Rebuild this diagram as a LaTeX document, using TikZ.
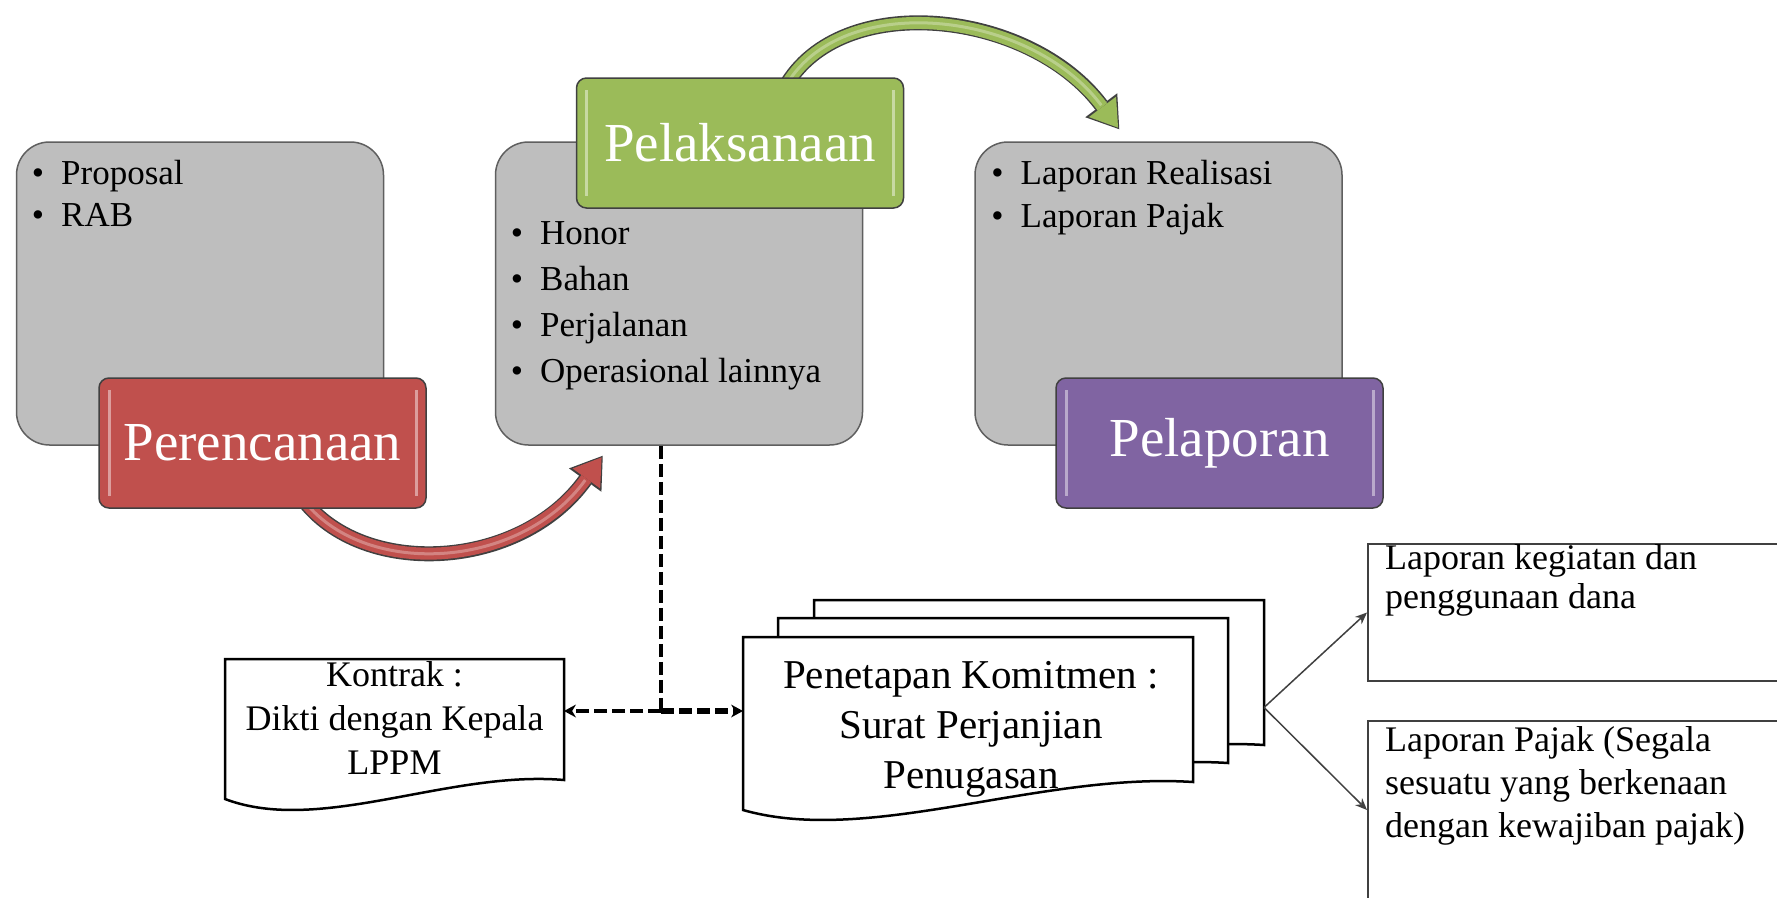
\documentclass[tikz,border=0pt]{standalone}
\usepackage{fontspec}
\setmainfont{Liberation Serif}
\usetikzlibrary{arrows.meta,calc,backgrounds}
\definecolor{abuisi}{HTML}{BEBEBE}
\definecolor{abugaris}{HTML}{5F5F5F}
\definecolor{tepi}{HTML}{404040}
\definecolor{merah}{HTML}{C0504D}
\definecolor{hijau}{HTML}{9BBB59}
\definecolor{ungu}{HTML}{8064A2}
\tikzset{
>=Stealth,
kotak isi/.style={draw=abugaris,fill=abuisi,line width=1.5pt,rounded corners=33pt,
  minimum width=367pt,minimum height=303pt},
tahap/.style={draw=tepi,fill=#1,line width=1.5pt,rounded corners=10pt,
  minimum width=327pt,minimum height=130pt,text=white,font=\fontsize{55}{60}\selectfont,
  path picture={\draw[white,opacity=.45,line width=3pt]
    ([xshift=10pt,yshift=-12pt]path picture bounding box.north west)
      -- ([xshift=10pt,yshift=12pt]path picture bounding box.south west)
    ([xshift=-10pt,yshift=-12pt]path picture bounding box.north east)
      -- ([xshift=-10pt,yshift=12pt]path picture bounding box.south east);}},
daftar/.style={anchor=base west,inner sep=0pt,font=\fontsize{35}{#1}\selectfont},
daftar/.default=42,
pita luar/.style={line width=15pt,draw=tepi,
  -{Triangle[length=30pt 0 0,width=40pt 0 0,line width=0pt 0 0]}},
pita dalam/.style={line width=12pt,draw=#1,shorten >=2pt,
  -{Triangle[length=26pt 0 0,width=34pt 0 0,line width=0pt 0 0]}},
pita kilau/.style={line width=3pt,draw=white,opacity=.3,shorten >=30pt},
dok/.style={inner sep=0pt,outer sep=0pt},
garis dok/.style={draw=black,fill=white,line width=2.5pt},
teks dok/.style={anchor=base,inner sep=0pt},
kotak lapor/.style={draw=tepi,line width=2pt,minimum width=460pt},
teks lapor/.style={anchor=base west,inner sep=0pt},
garis putus/.style={line width=4.5pt,dash pattern=on 13pt off 5pt,
  >={Stealth[length=12pt 0 0,width=13pt 0 0,line width=0pt 0 0]}},
garis cabang/.style={->,draw=tepi,line width=1.5pt,
  >={Stealth[length=12pt 0 0,width=10pt 0 0,line width=0pt 0 0]}}
}
\newcommand{\butir}[1]{\begin{tabular}[t]{@{}l@{\hspace{17pt}}l@{}}#1\end{tabular}}
\newcommand{\tbaris}[2]{\begin{tabular}[t]{@{}#1@{}}#2\end{tabular}}
\newcommand{\dokumen}[2]{%
  \draw[garis dok] (#1.south west) -- (#1.north west) -- (#1.north east)
    -- ([yshift=#2pt]#1.south east)
    .. controls ($(#1.south west)!0.66!(#1.south east)+(0,{-#2-10})$)
    and ($(#1.south west)!0.28!(#1.south east)+(0,36)$) .. (#1.south west) -- cycle;}

\begin{document}
\begin{tikzpicture}[x=1pt,y=-1pt]
\useasboundingbox (0,0) rectangle (1777,897);
\clip (0,0) rectangle (1777,897);

\node[kotak isi] (isi1) at (200,293.5) {};
\node[kotak isi] (isi2) at (679,293.5) {};
\node[kotak isi] (isi3) at (1158.5,293.5) {};

\node[daftar] (daftar1) at ([xshift=16pt,yshift=-43pt]isi1.north west)
  {\butir{\textbullet & Proposal\\ \textbullet & RAB}};
\node[daftar=46] (daftar2) at ([xshift=16pt,yshift=-103pt]isi2.north west)
  {\butir{\textbullet & Honor\\ \textbullet & Bahan\\ \textbullet & Perjalanan\\ \textbullet & Operasional lainnya}};
\node[daftar=43] (daftar3) at ([xshift=17pt,yshift=-43pt]isi3.north west)
  {\butir{\textbullet & Laporan Realisasi\\ \textbullet & Laporan Pajak}};

\node[tahap=merah] (rencana) at (262.5,443) {Perencanaan};
\node[tahap=hijau] (laksana) at (740,143) {Pelaksanaan};
\node[tahap=ungu] (lapor) at (1219.5,443) {Pelaporan};

\begin{scope}[on background layer]
\fill[white] (0,0) rectangle (1777,897);
\draw[pita luar] ([xshift=40pt,yshift=10pt]rencana.south)
  .. controls +(60,80) and +(-83,115) .. ([xshift=108pt,yshift=-10pt]isi2.south west);
\draw[pita dalam=merah] ([xshift=40pt,yshift=10pt]rencana.south)
  .. controls +(60,80) and +(-83,115) .. ([xshift=108pt,yshift=-10pt]isi2.south west);
\draw[pita kilau] ([xshift=40pt,yshift=10pt]rencana.south)
  .. controls +(60,80) and +(-83,115) .. ([xshift=108pt,yshift=-10pt]isi2.south west);
\draw[pita luar] ([xshift=45pt,yshift=-10pt]laksana.north)
  .. controls +(55,-98) and +(-90,-120) .. ([xshift=145pt,yshift=12pt]isi3.north west);
\draw[pita dalam=hijau] ([xshift=45pt,yshift=-10pt]laksana.north)
  .. controls +(55,-98) and +(-90,-120) .. ([xshift=145pt,yshift=12pt]isi3.north west);
\draw[pita kilau] ([xshift=45pt,yshift=-10pt]laksana.north)
  .. controls +(55,-98) and +(-90,-120) .. ([xshift=145pt,yshift=12pt]isi3.north west);
\end{scope}

\node[dok,minimum width=339pt,minimum height=140pt] (kontrak) at (394.5,729) {};
\node[dok,minimum width=450pt,minimum height=173pt] (tetap) at (968,723.5) {};
\node[dok,minimum width=450pt,minimum height=173pt] (tetap b) at ([xshift=35pt,yshift=19pt]tetap.center) {};
\node[dok,minimum width=450pt,minimum height=173pt] (tetap c) at ([xshift=71pt,yshift=37pt]tetap.center) {};
\dokumen{kontrak}{19}
\dokumen{tetap c}{28}
\dokumen{tetap b}{28}
\dokumen{tetap}{28}
\node[teks dok,font=\fontsize{36}{44}\selectfont] (teks kontrak) at ([yshift=-27pt]kontrak.north)
  {\tbaris{c}{Kontrak :\\Dikti dengan Kepala\\LPPM}};
\node[teks dok,font=\fontsize{41}{50}\selectfont] (teks tetap) at ([xshift=3pt,yshift=-51pt]tetap.north)
  {\tbaris{c}{Penetapan Komitmen :\\Surat Perjanjian\\Penugasan}};

\node[kotak lapor,minimum height=137pt] (lapkeg) at (1598,612.5) {};
\node[kotak lapor,minimum height=178pt] (lappajak) at (1598,810) {};
\node[teks lapor,font=\fontsize{36}{39}\selectfont] (teks lapkeg) at ([xshift=18pt,yshift=-26pt]lapkeg.north west)
  {\tbaris{l}{Laporan kegiatan dan\\penggunaan dana}};
\node[teks lapor,font=\fontsize{36}{43}\selectfont] (teks lappajak) at ([xshift=18pt,yshift=-31pt]lappajak.north west)
  {\tbaris{l}{Laporan Pajak (Segala\\sesuatu yang berkenaan\\dengan kewajiban pajak)}};

\coordinate (cabang) at (661,711);
\draw[garis putus] (isi2.south -| cabang) -- (cabang);
\draw[garis putus,->] (cabang) -- (cabang -| kontrak.east);
\draw[garis putus,->,line width=5.5pt] (cabang) -- (cabang -| tetap.west);

\coordinate (pangkal) at ([yshift=-21pt]tetap c.east);
\draw[garis cabang] (pangkal) -- (lapkeg.west);
\draw[garis cabang] (pangkal) -- (lappajak.west);
\end{tikzpicture}
\end{document}
